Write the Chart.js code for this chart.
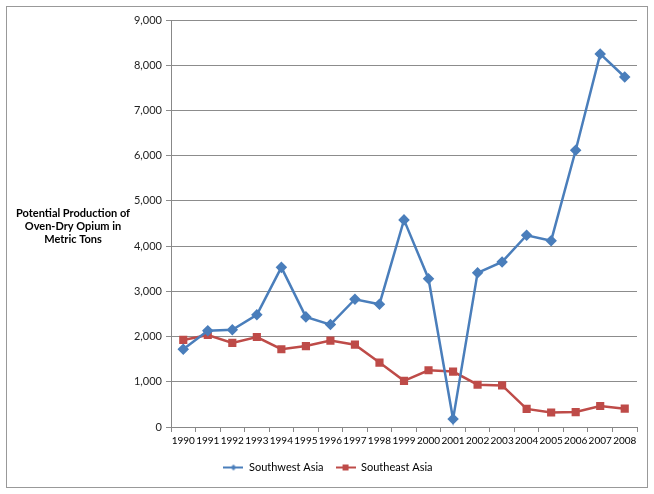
<!DOCTYPE html>
<html>
<head>
<meta charset="utf-8">
<script src="https://cdn.jsdelivr.net/npm/chart.js@4"></script>
<style>
  body { margin: 0; background: #fff; }
  #wrap { width: 654px; height: 494px; }
</style>
</head>
<body>
<div id="wrap"><canvas id="myChart" width="654" height="494"></canvas></div>
<script>
let years = ["1990", "1991", "1992", "1993", "1994", "1995", "1996", "1997", "1998", "1999",
  "2000", "2001", "2002", "2003", "2004", "2005", "2006", "2007", "2008"];
let southwest = [1720, 2130, 2150, 2480, 3530, 2435, 2265, 2825, 2715, 4580,
  3280, 175, 3410, 3650, 4240, 4120, 6120, 8250, 7740];
let southeast = [1925, 2035, 1860, 1990, 1720, 1790, 1910, 1820, 1425, 1020,
  1255, 1225, 935, 920, 400, 320, 330, 465, 405];
let yTitle = ["Potential Production of", "Oven-Dry Opium in", "Metric Tons"];

let blue = "#4A7EBB";
let red = "#BE4B48";

// little legend pictures: line with the marker in the middle
function legendIcon(color, shape) {
  let c = document.createElement("canvas");
  c.width = 20;
  c.height = 10;
  let g = c.getContext("2d");
  g.strokeStyle = color;
  g.lineWidth = 2;
  g.beginPath();
  g.moveTo(0, 5);
  g.lineTo(20, 5);
  g.stroke();
  g.fillStyle = color;
  if (shape == "diamond") {
    g.beginPath();
    g.moveTo(10, 2);
    g.lineTo(13, 5);
    g.lineTo(10, 8);
    g.lineTo(7, 5);
    g.closePath();
    g.fill();
  } else {
    g.fillRect(7, 2, 6, 6);
  }
  return c;
}

let extras = {
  id: "extras",
  afterDraw(chart) {
    let ctx = chart.ctx;
    ctx.save();
    ctx.strokeStyle = "#999";
    ctx.lineWidth = 1;
    ctx.strokeRect(6.5, 6.5, 641, 481);
    ctx.fillStyle = "#000";
    ctx.font = "bold 11px Lato";
    ctx.textAlign = "center";
    ctx.textBaseline = "middle";
    for (let i = 0; i < yTitle.length; i++) {
      ctx.fillText(yTitle[i], 73, 213 + i * 13);
    }
    ctx.restore();
  },
};

new Chart("myChart", {
  type: "line",
  data: {
    labels: years,
    datasets: [
      {
        label: "Southwest Asia",
        data: southwest,
        borderColor: blue,
        backgroundColor: blue,
        borderWidth: 2.5,
        pointStyle: "rectRot",
        pointRadius: 4,
        pointHoverRadius: 4,
        tension: 0,
        fill: false,
      },
      {
        label: "Southeast Asia",
        data: southeast,
        borderColor: red,
        backgroundColor: red,
        borderWidth: 2.5,
        pointStyle: "rect",
        pointRadius: 4,
        pointHoverRadius: 4,
        tension: 0,
        fill: false,
      },
    ],
  },
  plugins: [extras],
  options: {
    responsive: false,
    animation: false,
    layout: { padding: { left: 19, right: 17, top: 20, bottom: 11 } },
    plugins: {
      legend: {
        display: true,
        position: "bottom",
        labels: {
          usePointStyle: true,
          pointStyleWidth: 20,
          color: "#222",
          font: { family: "Lato", size: 11 },
          padding: 12,
          generateLabels(chart) {
            return chart.data.datasets.map((ds, i) => ({
              text: ds.label,
              datasetIndex: i,
              fillStyle: ds.borderColor,
              strokeStyle: ds.borderColor,
              lineWidth: 0,
              pointStyle: legendIcon(ds.borderColor, i == 0 ? "diamond" : "square"),
            }));
          },
        },
      },
      tooltip: { enabled: false },
    },
    scales: {
      x: {
        offset: true,
        grid: {
          offset: true,
          drawOnChartArea: false,
          drawTicks: true,
          tickLength: 5,
          color: "#888",
        },
        border: { color: "#888" },
        ticks: {
          autoSkip: false,
          maxRotation: 0,
          color: "#000",
          font: { family: "Lato", size: 10 },
          padding: 3,
        },
      },
      y: {
        min: 0,
        max: 9000,
        afterFit: (s) => {
          s.width = 152;
        },
        ticks: {
          stepSize: 1000,
          color: "#222",
          font: { family: "Lato", size: 11 },
          padding: 4,
          callback: (v) => v.toLocaleString("en-US"),
        },
        grid: { color: "#8c8c8c", tickLength: 5 },
        border: { color: "#888" },
      },
    },
  },
});
</script>
</body>
</html>
